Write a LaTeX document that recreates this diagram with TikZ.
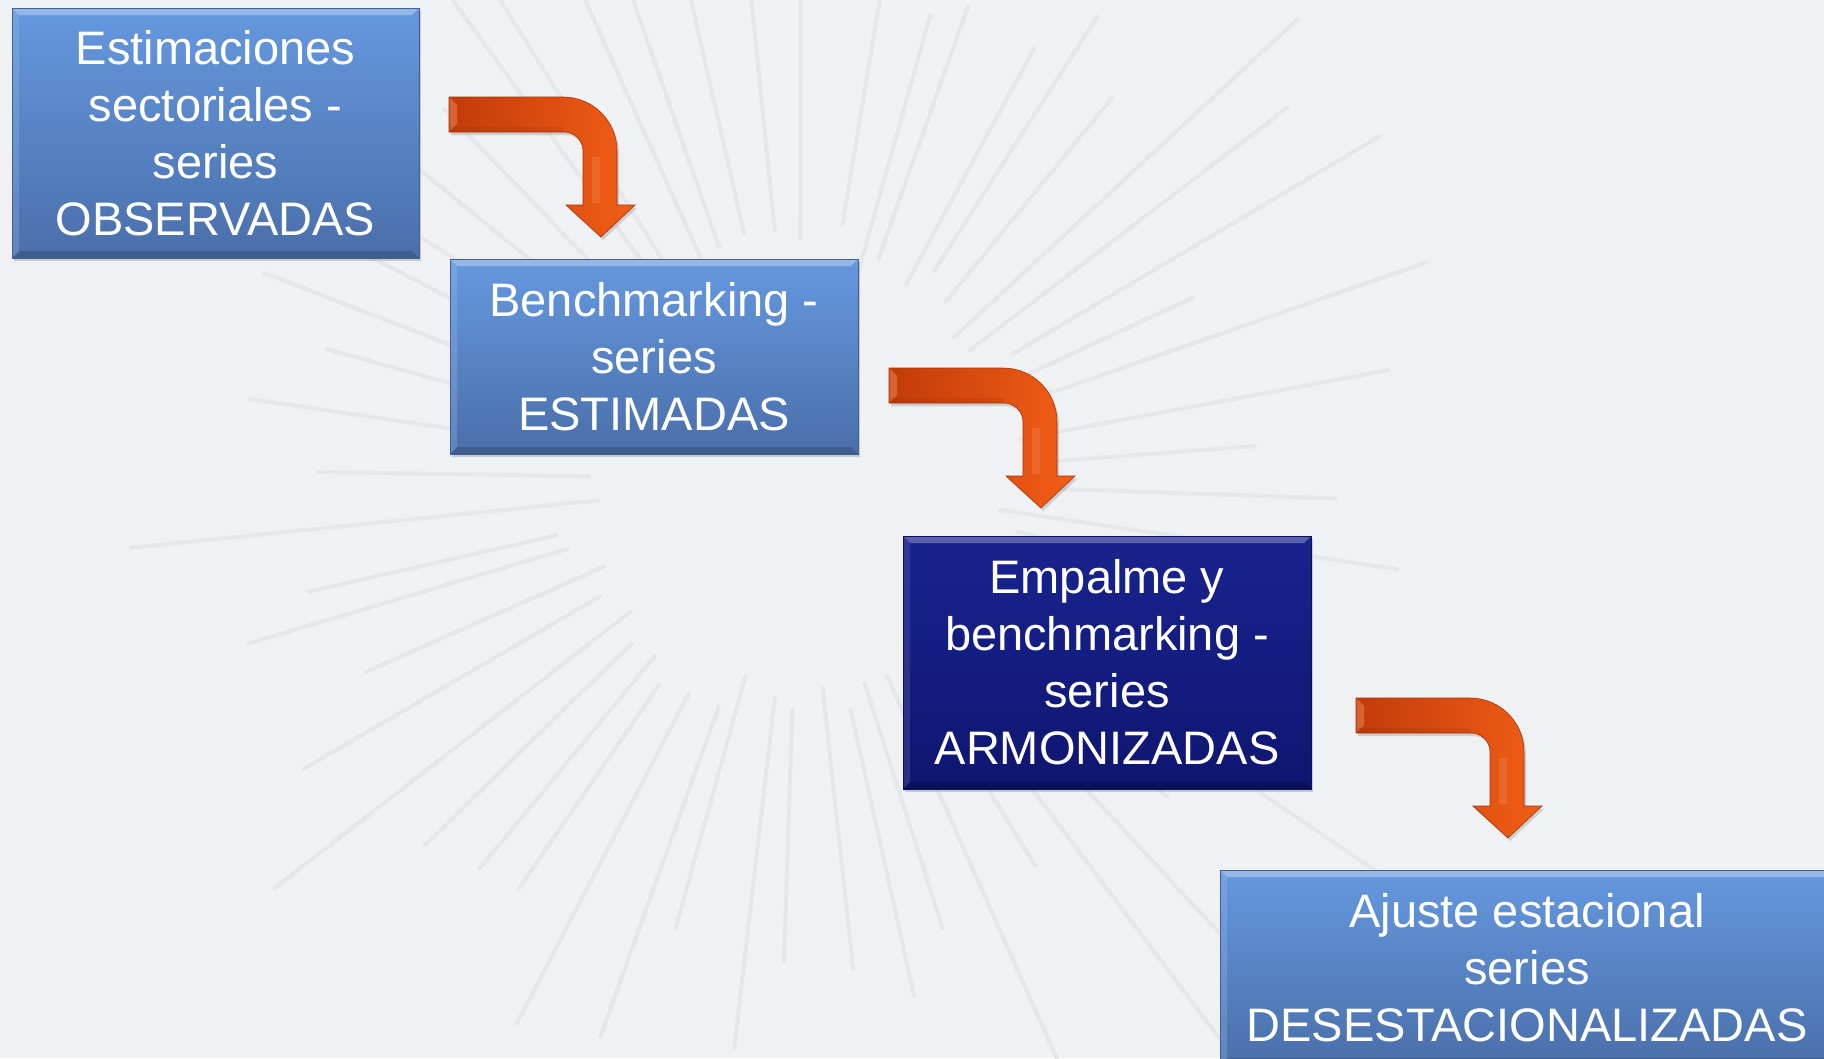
\documentclass[tikz,border=0pt]{standalone}
\usepackage{fontspec}
\setmainfont{Liberation Sans}
\usetikzlibrary{shadows,calc}
\definecolor{bgc}{HTML}{F0F1F2}
\definecolor{rayc}{HTML}{E6E7E9}
\definecolor{bluetop}{HTML}{6598DF}
\definecolor{bluebot}{HTML}{4A6FAA}
\definecolor{blueedge}{HTML}{3F5F95}
\definecolor{navytop}{HTML}{18238F}
\definecolor{navybot}{HTML}{0F1670}
\definecolor{navyedge}{HTML}{0B1058}
\definecolor{arrD}{HTML}{C23B0A}
\definecolor{arrL}{HTML}{F25E16}
\newcommand{\bevelfill}[2]{%
  \fill[#1, opacity=0.7] (path picture bounding box.north west) -- (path picture bounding box.north east)
    -- ($(path picture bounding box.north east)+(-7,7)$) -- ($(path picture bounding box.north west)+(7,7)$) -- cycle;
  \fill[#2, opacity=0.5] (path picture bounding box.south west) -- (path picture bounding box.south east)
    -- ($(path picture bounding box.south east)+(-7,-7)$) -- ($(path picture bounding box.south west)+(7,-7)$) -- cycle;
  \fill[#1, opacity=0.25] (path picture bounding box.north west) -- (path picture bounding box.south west)
    -- ($(path picture bounding box.south west)+(7,-7)$) -- ($(path picture bounding box.north west)+(7,7)$) -- cycle;}
\tikzset{
  boxbase/.style={rectangle, inner sep=0pt, align=center, text=white,
    font=\fontsize{47}{57}\selectfont, line width=1pt,
    drop shadow={opacity=0.35, shadow xshift=2pt, shadow yshift=-3pt}},
  lightbox/.style={boxbase, top color=bluetop, bottom color=bluebot, draw=blueedge,
    path picture={\bevelfill{bluetop!55!white}{bluebot!70!black}}},
  darkbox/.style={boxbase, top color=navytop, bottom color=navybot, draw=navyedge,
    path picture={\bevelfill{navytop!60!white}{navybot!60!black}}},
  arrowbody/.style={left color=arrD, right color=arrL, draw=arrD!85!black, line width=0.6pt,
    drop shadow={opacity=0.3, shadow xshift=2pt, shadow yshift=-3pt}},
}
\newcommand{\bentarrow}[1]{%
  \begin{scope}[shift={(#1)}]
    \path[arrowbody] (0,0) -- (114,0) .. controls (144,0) and (168,24) .. (168,54)
      -- (168,108) -- (186,108) -- (152,140) -- (117,108) -- (134,108) -- (134,54)
      .. controls (134,43.5) and (125.5,35) .. (115,35) -- (0,35) -- cycle;
    \fill[arrL!60!white, opacity=0.4] (0.5,0.5) -- (8,8) -- (8,27) -- (0.5,34.5) -- cycle;
    \fill[arrL!50!white, opacity=0.2] (143,60) rectangle (151,106);
    \fill[arrD!70!black, opacity=0.15] (0.5,30) -- (114,30) -- (115,34.5) -- (0.5,34.5) -- cycle;
  \end{scope}}
\begin{document}
\begin{tikzpicture}[x=1pt,y=-1pt]
\useasboundingbox (0,0) rectangle (1824,1058);
\begin{scope}
\clip (0,0) rectangle (1824,1058);
\fill[bgc] (0,0) rectangle (1824,1058);
% faint starburst texture
\pgfmathsetseed{11}
\foreach \i in {0,...,55}{
  \pgfmathsetmacro{\ang}{\i*6.43+3*rnd}
  \pgfmathsetmacro{\rin}{200+60*rnd}
  \pgfmathsetmacro{\rout}{430+300*rnd}
  \draw[rayc, line width=4pt, line cap=round] ($(800,480)+(\ang:\rin)$) -- ($(800,480)+(\ang:\rout)$);
}
% boxes
\node[lightbox, minimum width=407pt, minimum height=250pt] (b1) at (215.5,133)
  {Estimaciones\\sectoriales -\\series\\OBSERVADAS};
\node[lightbox, minimum width=408pt, minimum height=195pt] (b2) at (654,356.5)
  {Benchmarking -\\series\\ESTIMADAS};
\node[darkbox, minimum width=408pt, minimum height=253pt] (b3) at (1107,662.5)
  {Empalme y\\benchmarking -\\series\\ARMONIZADAS};
\node[lightbox, minimum width=614pt, minimum height=195pt] (b4) at (1527,967.5)
  {Ajuste estacional\\series\\DESESTACIONALIZADAS};
% bent arrows
\coordinate (a1) at (449,97);
\coordinate (a2) at (889,368);
\coordinate (a3) at (1356,698);
\bentarrow{a1}
\bentarrow{a2}
\bentarrow{a3}
\end{scope}
\end{tikzpicture}
\end{document}
